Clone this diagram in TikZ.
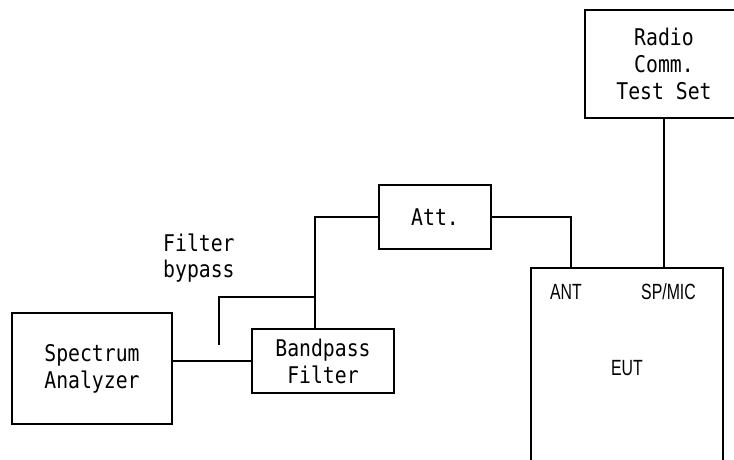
\documentclass[tikz,border=0pt]{standalone}
\usepackage{fontspec}
\setmonofont[FakeStretch=0.86]{DejaVu Sans Mono}
\newfontfamily\propfont[FakeStretch=0.72]{Liberation Sans}
\begin{document}
\begin{tikzpicture}[x=1pt,y=-1pt,
  box/.style={draw,line width=2pt,inner sep=0pt,align=center,
    font=\ttfamily\fontsize{23}{27}\selectfont},
  lbl/.style={inner sep=0pt,font=\propfont\fontsize{22}{24}\selectfont},
  txt/.style={inner sep=0pt,align=left,font=\ttfamily\fontsize{23}{26}\selectfont},
  wire/.style={line width=2pt}]
\useasboundingbox (0,0) rectangle (734,459);
\node[box,minimum width=160pt,minimum height=111pt] (sa) at (92,368.5) {Spectrum\\Analyzer};
\node[box,minimum width=142pt,minimum height=64pt] (bpf) at (323,361) {Bandpass\\Filter};
\node[box,minimum width=112pt,minimum height=64pt] (att) at (435,217) {Att.};
\node[box,minimum width=158pt,minimum height=108pt] (radio) at (664,64) {Radio\\Comm.\\Test Set};
\node[box,font=\propfont\fontsize{22}{24}\selectfont,minimum width=192pt,minimum height=200pt] (eut) at (627,368) {EUT};
\node[lbl] (ant) at (566,292) {ANT};
\node[lbl] (spmic) at (668.5,292) {SP/MIC};
\node[txt,anchor=north west] (fb) at (163,234) {Filter\\bypass};
\coordinate (stub) at (219,345);
\coordinate (j) at (315,297);
\coordinate (t) at (315,217);
\coordinate (a) at (571,268);
\draw[wire] (sa.east |- bpf.west) -- (bpf.west);
\draw[wire] (stub) |- (j);
\draw[wire] (j |- bpf.north) -- (t) -- (att.west);
\draw[wire] (att.east) -| (a);
\draw[wire] (radio.south) -- (radio.south |- eut.north);
\end{tikzpicture}
\end{document}
